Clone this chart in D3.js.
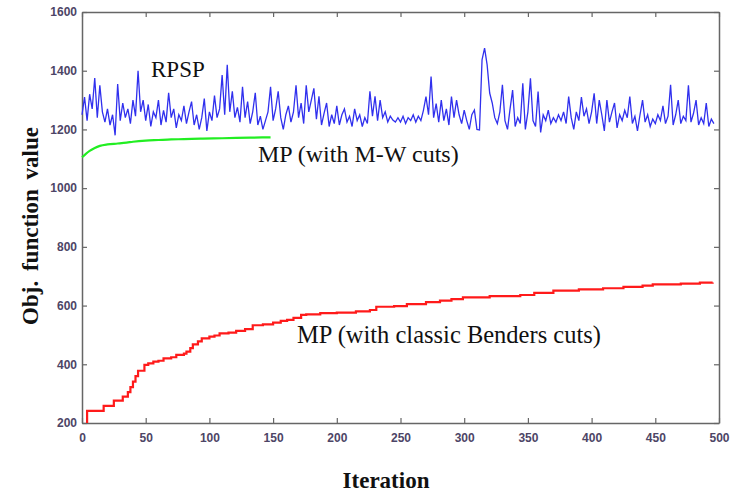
<!DOCTYPE html>
<html>
<head>
<meta charset="utf-8">
<script src="https://cdn.jsdelivr.net/npm/d3@7"></script>
<style>
  body { margin: 0; background: #fff; }
</style>
</head>
<body>
<div id="chart"></div>
<script>
var canvasWidth = 730;
var canvasHeight = 493;

// axis ticks
var xTicks = [0, 50, 100, 150, 200, 250, 300, 350, 400, 450, 500];
var yTicks = [200, 400, 600, 800, 1000, 1200, 1400, 1600];

// RPSP, one value every 2 iterations (0, 2, 4 ... 496)
var rpspStep = 2;
var rpspVal = [
  1250,1310,1230,1320,1270,1375,1240,1350,1260,1225,1270,1215,1250,1180,1355,1230,1290,1240,1270,1220,1300,1245,1400,1260,1300,
  1230,1285,1210,1260,1240,1300,1215,1265,1225,1325,1240,1270,1205,1250,1230,1280,1220,1260,1295,1215,1250,1200,1240,1305,1195,
  1260,1230,1315,1240,1270,1385,1250,1420,1260,1330,1240,1275,1225,1345,1240,1295,1220,1260,1325,1215,1245,1200,1230,1260,1345,
  1230,1270,1330,1240,1200,1250,1280,1225,1260,1350,1240,1290,1220,1350,1260,1300,1340,1235,1313,1215,1255,1290,1210,1250,1220,
  1280,1215,1250,1270,1225,1245,1210,1270,1230,1250,1210,1240,1220,1330,1245,1313,1230,1300,1240,1260,1225,1245,1232,1225,1240,
  1225,1245,1220,1240,1230,1250,1225,1245,1230,1265,1312,1250,1380,1240,1288,1225,1300,1230,1270,1215,1312,1240,1300,1250,1220,
  1266,1230,1200,1250,1266,1200,1198,1437,1477,1420,1324,1290,1240,1220,1260,1352,1230,1200,1270,1334,1210,1240,1220,1357,1200,
  1260,1374,1230,1210,1329,1190,1250,1230,1266,1220,1240,1225,1250,1230,1260,1220,1312,1240,1200,1260,1230,1310,1245,1270,1220,
  1260,1323,1220,1300,1250,1195,1300,1225,1260,1290,1205,1250,1230,1265,1240,1312,1220,1245,1195,1250,1300,1225,1250,1210,1235,
  1220,1250,1230,1280,1220,1245,1352,1215,1250,1300,1220,1245,1230,1350,1225,1255,1300,1215,1240,1220,1290,1210,1235,1220
];

// MP with M-W cuts
var mwIter = [0, 3, 6, 10, 14, 20, 28, 35, 40, 50, 60, 70, 80, 93, 110, 132, 148];
var mwVal  = [1105, 1117, 1127, 1137, 1144, 1149, 1152, 1155, 1158, 1162, 1164, 1166, 1167, 1169, 1170, 1172, 1173];

// MP with classic Benders cuts (step)
var bendIter = [4, 4, 17, 25, 32, 36, 38, 40, 42, 44, 49, 52, 56, 60, 64, 70, 74, 80, 82, 85, 87, 91, 94, 100, 104, 108, 115, 121, 128, 134,
  142, 150, 156, 161, 166, 172, 176, 187, 200, 215, 226, 231, 245, 255, 270, 281, 290, 299, 320, 344, 355, 370, 390, 409, 425, 440, 448, 470, 485, 495];
var bendVal  = [200, 241, 258, 276, 290, 305, 322, 341, 360, 378, 398, 403, 409, 412, 420, 424, 432, 436, 443, 455, 468, 478, 488, 494, 498, 505, 508, 514, 520, 533,
  536, 542, 548, 551, 558, 568, 570, 574, 576, 580, 585, 596, 598, 605, 612, 617, 622, 628, 632, 636, 643, 651, 655, 659, 664, 668, 672, 675, 678, 679];

var svg = d3.select("#chart")
    .append("svg")
    .attr("width", canvasWidth)
    .attr("height", canvasHeight);

var plotLeft = 82, plotRight = 719, plotTop = 12, plotBottom = 423;

var x = d3.scaleLinear().domain([0, 500]).range([plotLeft, plotRight]);
var y = d3.scaleLinear().domain([200, 1600]).range([plotBottom, plotTop]);

// axes, ticks inward, MATLAB style box
svg.append("g")
    .attr("transform", "translate(0," + plotBottom + ")")
    .call(d3.axisBottom(x).tickValues(xTicks).tickSizeInner(-5).tickSizeOuter(0).tickPadding(10).tickFormat(d3.format("d")));
svg.append("g")
    .attr("transform", "translate(0," + plotTop + ")")
    .call(d3.axisTop(x).tickValues(xTicks).tickSizeInner(-5).tickSizeOuter(0).tickFormat(""));
svg.append("g")
    .attr("transform", "translate(" + plotLeft + ",0)")
    .call(d3.axisLeft(y).tickValues(yTicks).tickSizeInner(-5).tickSizeOuter(0).tickPadding(5).tickFormat(d3.format("d")));
svg.append("g")
    .attr("transform", "translate(" + plotRight + ",0)")
    .call(d3.axisRight(y).tickValues(yTicks).tickSizeInner(-5).tickSizeOuter(0).tickFormat(""));

svg.selectAll(".domain").attr("stroke", "#666").attr("stroke-width", 1.5);
svg.selectAll(".tick line").attr("stroke", "#666").attr("stroke-width", 1.2);
svg.selectAll(".tick text")
    .attr("fill", "#4d4566")
    .style("font-family", "'Liberation Sans', Arial, sans-serif")
    .style("font-weight", "bold")
    .style("font-size", "12px");

// lines
var rpspLine = d3.line()
    .x(function(d, i) { return x(i * rpspStep); })
    .y(function(d) { return y(d); });

svg.append("path")
    .datum(rpspVal)
    .attr("fill", "none")
    .attr("stroke", "#3030ee")
    .attr("stroke-width", 1.3)
    .attr("d", rpspLine);

var mwLine = d3.line()
    .curve(d3.curveMonotoneX)
    .x(function(d) { return x(d[0]); })
    .y(function(d) { return y(d[1]); });

svg.append("path")
    .datum(d3.zip(mwIter, mwVal))
    .attr("fill", "none")
    .attr("stroke", "#22ee22")
    .attr("stroke-width", 2.2)
    .attr("d", mwLine);

var bendLine = d3.line()
    .curve(d3.curveStepAfter)
    .x(function(d) { return x(d[0]); })
    .y(function(d) { return y(d[1]); });

svg.append("path")
    .datum(d3.zip(bendIter, bendVal))
    .attr("fill", "none")
    .attr("stroke", "#ff1a1a")
    .attr("stroke-width", 2.2)
    .attr("d", bendLine);

// annotations
var serif = "'Liberation Serif', 'Times New Roman', serif";
svg.append("text").attr("x", 151).attr("y", 77).text("RPSP")
    .style("font-family", serif).style("font-size", "23px").attr("fill", "#111");
svg.append("text").attr("x", 258).attr("y", 162).text("MP (with M-W cuts)")
    .style("font-family", serif).style("font-size", "24px").attr("fill", "#111");
svg.append("text").attr("x", 297).attr("y", 343).text("MP (with classic Benders cuts)")
    .style("font-family", serif).style("font-size", "24.5px").attr("fill", "#111");

// axis titles
svg.append("text")
    .attr("transform", "translate(38,226) rotate(-90)")
    .attr("text-anchor", "middle")
    .style("font-family", serif).style("font-size", "23px").style("font-weight", "bold")
    .style("word-spacing", "4px")
    .attr("fill", "#111")
    .text("Obj. function value");
svg.append("text")
    .attr("x", 386).attr("y", 488)
    .attr("text-anchor", "middle")
    .style("font-family", serif).style("font-size", "23px").style("font-weight", "bold")
    .attr("fill", "#111")
    .text("Iteration");
</script>
</body>
</html>
